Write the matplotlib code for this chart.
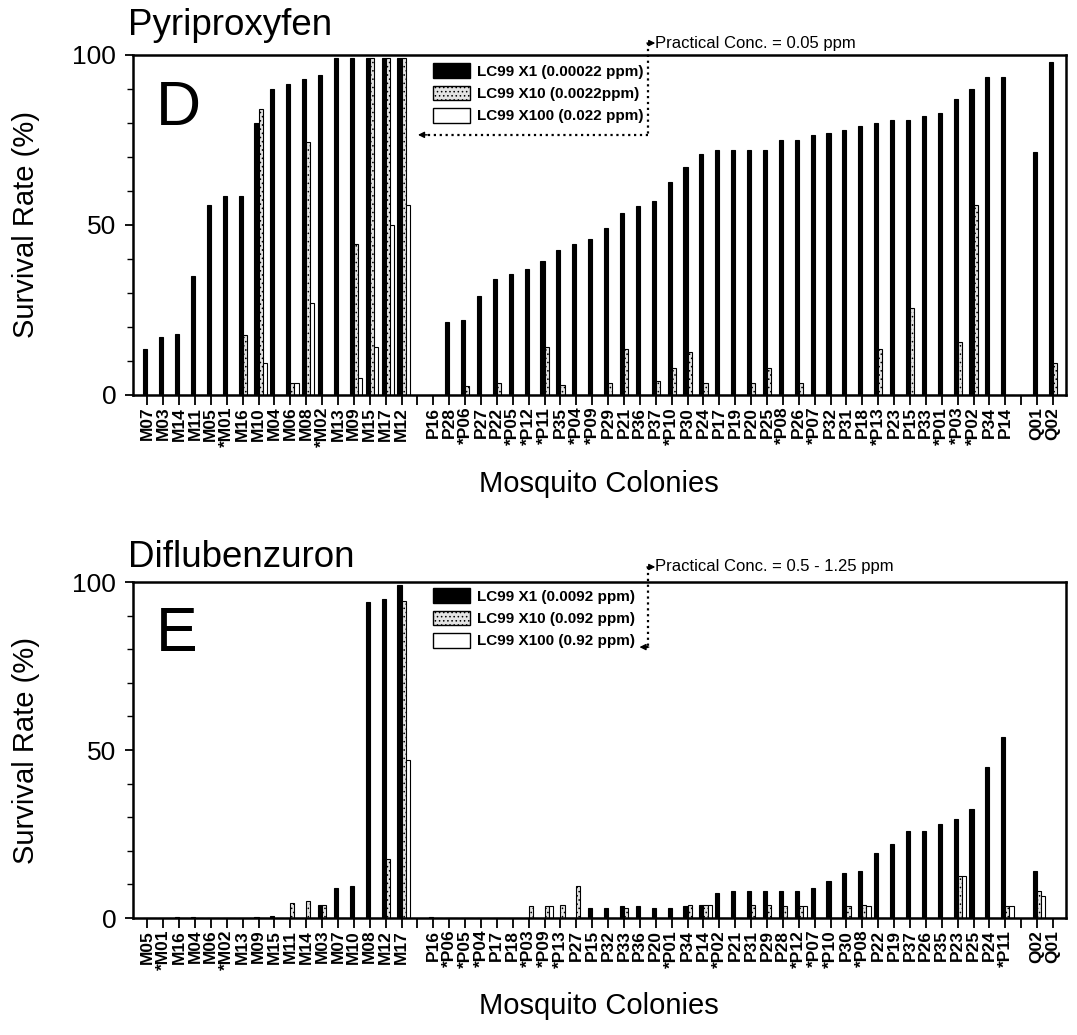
import matplotlib
matplotlib.use("Agg")
import matplotlib.pyplot as plt
import numpy as np
from matplotlib.patches import Patch

plt.rcParams['font.family'] = ['Liberation Sans', 'DejaVu Sans']
plt.rcParams['hatch.linewidth'] = 0.6

# ---- Pyriproxyfen (panel D) ----
pyr_m_labels = ["M07", "M03", "M14", "M11", "M05", "*M01", "M16", "M10", "M04", "M06",
                "M08", "*M02", "M13", "M09", "M15", "M17", "M12"]
pyr_p_labels = ["P16", "P28", "*P06", "P27", "P22", "*P05", "*P12", "*P11", "P35", "*P04",
                "*P09", "P29", "P21", "P36", "P37", "*P10", "P30", "P24", "P17", "P19",
                "P20", "P25", "*P08", "P26", "*P07", "P32", "P31", "P18", "*P13", "P23",
                "P15", "P33", "*P01", "*P03", "*P02", "P34", "P14"]
pyr_q_labels = ["Q01", "Q02"]

pyr_x1 = [13.5, 17, 18, 35, 56, 58.5, 58.5, 80, 90, 91.5, 93, 94, 99, 99, 99, 99, 99,
          0, 21.5, 22, 29, 34, 35.5, 37, 39.5, 42.5, 44.5,
          46, 49, 53.5, 55.5, 57, 62.5, 67, 71, 72, 72,
          72, 72, 75, 75, 76.5, 77, 78, 79, 80, 81,
          81, 82, 83, 87, 90, 93.5, 93.5,
          71.5, 98]
pyr_x10 = [0, 0, 0, 0, 0, 0, 17.5, 84, 0, 3.5, 74.5, 0, 0, 44.5, 99, 99, 99,
           0, 0, 2.5, 0, 3.5, 0, 0, 14, 3, 0,
           0, 3.5, 13.5, 0, 4, 8, 12.5, 3.5, 0, 0,
           3.5, 8, 0, 3.5, 0, 0, 0, 0, 13.5, 0,
           25.5, 0, 0, 15.5, 56, 0, 0,
           0, 9.5]
pyr_x100 = [0, 0, 0, 0, 0, 0, 0, 9.5, 0, 3.5, 27, 0, 0, 5, 14, 50, 56,
            0, 0, 0, 0, 0, 0, 0, 0, 0, 0,
            0, 0, 0, 0, 0, 0, 0, 0, 0, 0,
            0, 0, 0, 0, 0, 0, 0, 0, 0, 0,
            0, 0, 0, 0, 0, 0, 0,
            0, 0]

# ---- Diflubenzuron (panel E) ----
dif_m_labels = ["M05", "*M01", "M16", "M04", "M06", "*M02", "M13", "M09", "M15", "M11",
                "M14", "M03", "M07", "M10", "M08", "M12", "M17"]
dif_p_labels = ["P16", "*P06", "*P05", "*P04", "P17", "P18", "*P03", "*P09", "*P13", "P27",
                "P15", "P32", "P33", "P36", "P20", "*P01", "P34", "P14", "*P02", "P21",
                "P31", "P29", "P28", "*P12", "*P07", "*P10", "P30", "*P08", "P22", "P19",
                "P37", "P26", "P35", "P23", "P25", "P24", "*P11"]
dif_q_labels = ["Q02", "Q01"]

dif_x1 = [0, 0, 0.3, 0.3, 0, 0, 0, 0.3, 0.5, 0, 0, 4, 9, 9.5, 94, 95, 99,
          0.3, 0, 0, 0, 0, 0, 0, 0, 0, 0,
          3, 3, 3.5, 3.5, 3, 3, 3.5, 4, 7.5, 8,
          8, 8, 8, 8, 9, 11, 13.5, 14, 19.5, 22,
          26, 26, 28, 29.5, 32.5, 45, 54,
          14, 0]
dif_x10 = [0, 0, 0, 0, 0, 0, 0, 0, 0, 4.5, 5, 4, 0, 0, 0, 17.5, 94.5,
           0, 0, 0, 0, 0, 0, 3.5, 3.5, 4, 9.5,
           0, 0, 3, 0, 0, 0, 4, 4, 0, 0,
           4, 4, 3.5, 3.5, 0, 0, 3.5, 4, 0, 0,
           0, 0, 0, 12.5, 0, 0, 3.5,
           8, 0]
dif_x100 = [0, 0, 0, 0, 0, 0, 0, 0, 0, 0, 0, 0, 0, 0, 0, 0, 47,
            0, 0, 0, 0, 0, 0, 0, 3.5, 0, 0,
            0, 0, 0, 0, 0, 0, 0, 4, 0, 0,
            0, 0, 0, 3.5, 0, 0, 0, 3.5, 0, 0,
            0, 0, 0, 12.5, 0, 0, 3.5,
            6.5, 0]

pyr_legend = ["LC99 X1 (0.00022 ppm)", "LC99 X10 (0.0022ppm)", "LC99 X100 (0.022 ppm)"]
dif_legend = ["LC99 X1 (0.0092 ppm)", "LC99 X10 (0.092 ppm)", "LC99 X100 (0.92 ppm)"]

BAR_W = 0.26
OFFSETS = (-0.13, 0.13, 0.39)
HATCH_FC = "#e4e4e4"


def slot_positions(groups):
    """
    Slots for every colony, one empty slot between groups.
    """
    pos = []
    start = 0
    for g in groups:
        pos.extend(range(start, start + len(g)))
        start += len(g) + 1
    return np.array(pos), start - 1


def draw_panel(ax, groups, x1, x10, x100, legend_labels, title, letter,
               conc_text, arrow_end, arrow_y, title_y, conc_y, legend_y):
    pos, n_slots = slot_positions(groups)
    labels = [lab for g in groups for lab in g]

    ax.bar(pos + OFFSETS[0], x1, BAR_W, color="black", edgecolor="black", lw=0.8)
    ax.bar(pos + OFFSETS[1], x10, BAR_W, color=HATCH_FC, edgecolor="black",
           hatch="....", lw=0.8)
    ax.bar(pos + OFFSETS[2], x100, BAR_W, color="white", edgecolor="black", lw=0.8)

    ax.set_xlim(-0.9, n_slots - 1 + 0.8)
    ax.set_ylim(0, 100)

    ticks = np.arange(n_slots)
    tick_labels = [""] * n_slots
    for p, lab in zip(pos, labels):
        tick_labels[p] = lab
    ax.set_xticks(ticks)
    ax.set_xticklabels(tick_labels, rotation=90, fontsize=12.5, fontweight="bold",
                       va="top", ha="center")
    ax.tick_params(axis="x", direction="out", length=7, width=1.3, pad=1.5)

    ax.set_yticks([0, 50, 100])
    ax.set_yticks(np.arange(0, 101, 10), minor=True)
    ax.tick_params(axis="y", which="major", direction="out", length=6, width=1.3,
                   labelsize=19, pad=6)
    ax.tick_params(axis="y", which="minor", direction="out", length=4, width=1)

    for sp in ax.spines.values():
        sp.set_linewidth(1.8)

    ax.set_ylabel("Survival Rate (%)", fontsize=21)
    ax.yaxis.set_label_coords(-0.1, 0.5)
    ax.set_xlabel("Mosquito Colonies", fontsize=21)
    ax.xaxis.set_label_coords(0.5, -0.22)

    ax.text(-0.005, title_y, title, transform=ax.transAxes, fontsize=26.5,
            ha="left", va="baseline")
    ax.text(0.025, 0.795, letter, transform=ax.transAxes, fontsize=45,
            ha="left", va="baseline")

    handles = [Patch(facecolor="black", edgecolor="black"),
               Patch(facecolor=HATCH_FC, edgecolor="black", hatch="...."),
               Patch(facecolor="white", edgecolor="black")]
    ax.legend(handles, legend_labels, loc="upper left", bbox_to_anchor=(0.3215, legend_y),
              frameon=False, borderpad=0, borderaxespad=0, handlelength=2.4,
              handleheight=1.1, handletextpad=0.5, labelspacing=0.45,
              prop={"size": 11, "weight": "bold"})

    # practical concentration bracket
    vx = 0.552
    ax.annotate("", xy=(vx + 0.008, conc_y), xytext=(vx - 0.001, conc_y),
                xycoords="axes fraction", annotation_clip=False,
                arrowprops=dict(arrowstyle="-|>", color="black", lw=1,
                                mutation_scale=9, shrinkA=0, shrinkB=0))
    ax.text(vx + 0.008, conc_y, conc_text, transform=ax.transAxes, fontsize=12,
            ha="left", va="center")
    ax.plot([vx, vx], [conc_y, arrow_y], transform=ax.transAxes, ls=":", lw=1.6,
            color="black", clip_on=False)
    ax.plot([vx, arrow_end + 0.006], [arrow_y, arrow_y], transform=ax.transAxes,
            ls=":", lw=1.6, color="black", clip_on=False)
    ax.annotate("", xy=(arrow_end, arrow_y), xytext=(arrow_end + 0.01, arrow_y),
                xycoords="axes fraction", annotation_clip=False,
                arrowprops=dict(arrowstyle="-|>", color="black", lw=1,
                                mutation_scale=9, shrinkA=0, shrinkB=0))


fig = plt.figure(figsize=(10.77, 10.35), dpi=100)
ax1 = fig.add_axes([0.1235, 0.6184, 0.866, 0.3285])
ax2 = fig.add_axes([0.1235, 0.1130, 0.866, 0.3246])

draw_panel(ax1, [pyr_m_labels, pyr_p_labels, pyr_q_labels], pyr_x1, pyr_x10, pyr_x100,
           pyr_legend, "Pyriproxyfen", "D", "Practical Conc. = 0.05 ppm",
           arrow_end=0.3055, arrow_y=0.765, title_y=1.06, conc_y=1.035, legend_y=0.976)
draw_panel(ax2, [dif_m_labels, dif_p_labels, dif_q_labels], dif_x1, dif_x10, dif_x100,
           dif_legend, "Diflubenzuron", "E", "Practical Conc. = 0.5 - 1.25 ppm",
           arrow_end=0.543, arrow_y=0.8065, title_y=1.045, conc_y=1.045, legend_y=0.982)

fig.savefig("out.png", dpi=100)
